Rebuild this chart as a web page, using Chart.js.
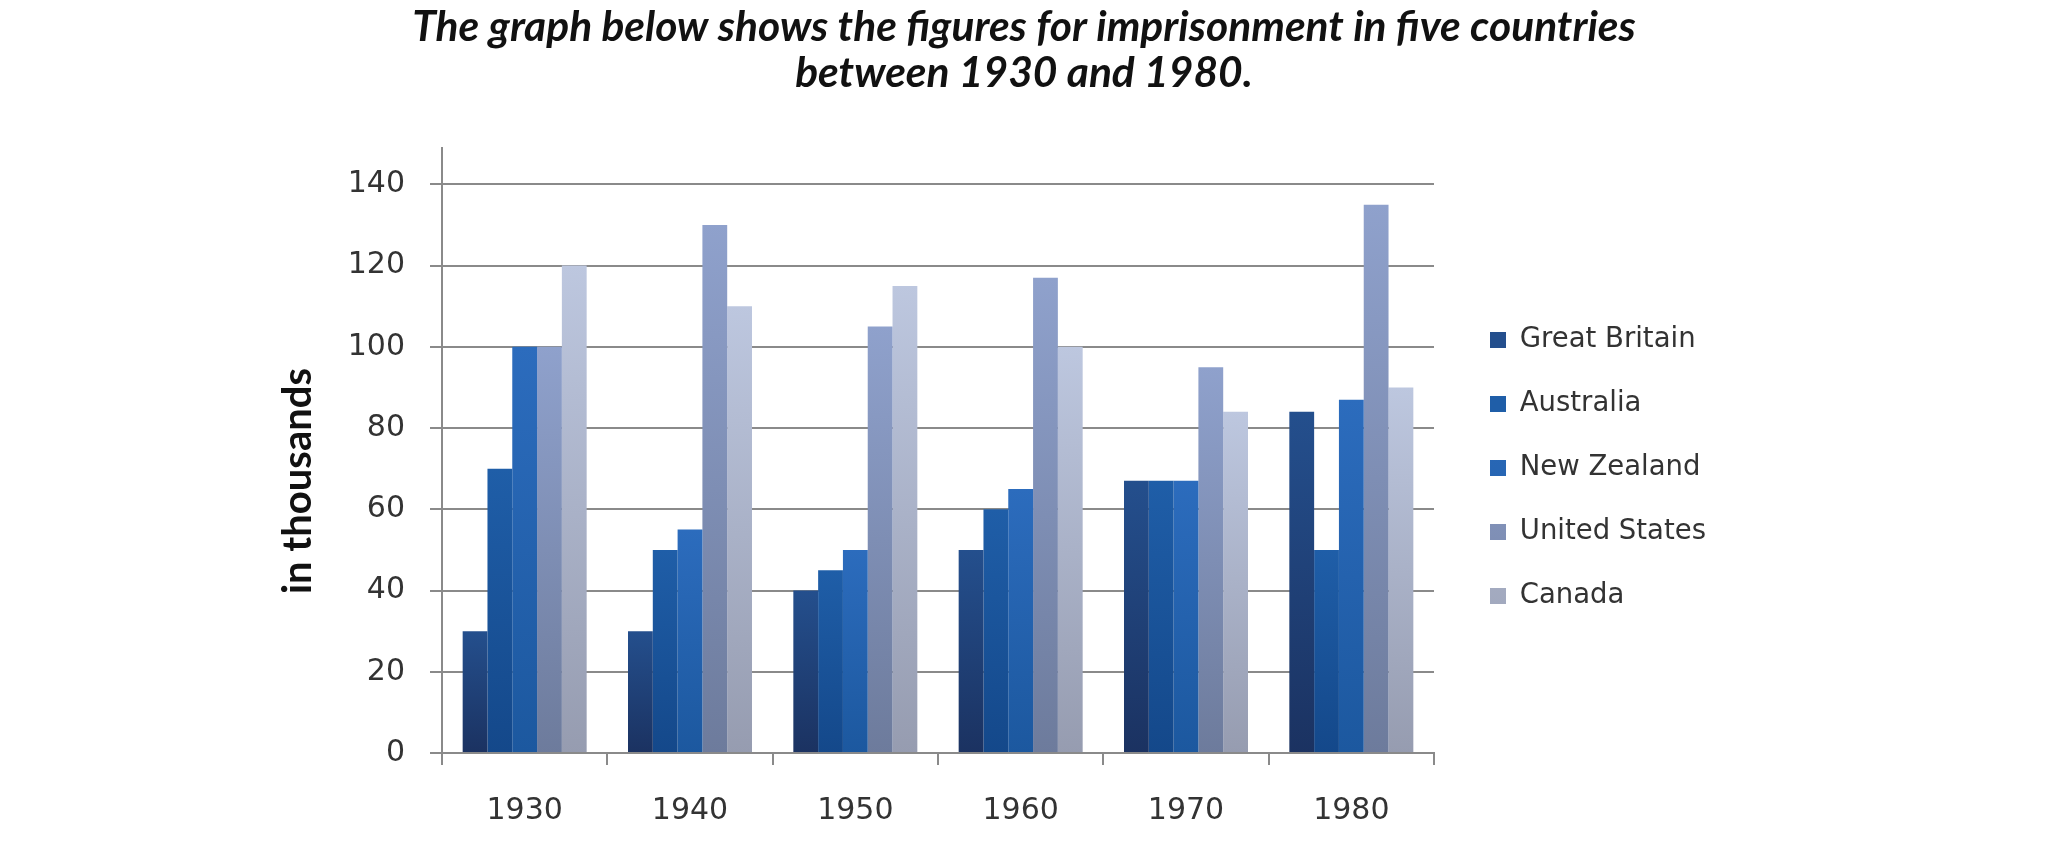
<!DOCTYPE html>
<html>
<head>
<meta charset="utf-8">
<script src="https://cdn.jsdelivr.net/npm/chart.js@4/dist/chart.umd.min.js"></script>
<style>
html,body{margin:0;padding:0;background:#ffffff;}
#wrap{width:2048px;height:866px;}
</style>
</head>
<body>
<div id="wrap"><canvas id="c" width="2048" height="866"></canvas></div>
<script>
// ---- data ----
const categories = ['1930', '1940', '1950', '1960', '1970', '1980'];
const greatBritain = [30, 30, 40, 50, 67, 84];
const australia = [70, 50, 45, 60, 67, 50];
const newZealand = [100, 55, 50, 65, 67, 87];
const unitedStates = [100, 130, 105, 117, 95, 135];
const canada = [120, 110, 115, 100, 84, 90];
const seriesNames = ['Great Britain', 'Australia', 'New Zealand', 'United States', 'Canada'];
const yTickStep = 20;
const yAxisMax = 149;
const titleLines = ['The graph below shows the figures for imprisonment in five countries', 'between 1930 and 1980.'];
const yTitle = 'in thousands';

// ---- styles ----
const TOP_COLORS = ['#244f8d', '#1f5ea8', '#2c6cbd', '#8fa1cc', '#bdc7df'];
const BOTTOM_COLORS = ['#1b3261', '#14488a', '#1c589f', '#6d7b9c', '#969cb0'];
const LEGEND_COLORS = ['#1f3d72', '#1c4f91', '#2a62ae', '#8494bd', '#b5bdd2'];
const GRID = '#8a8a8a';
const CHART_RIGHT = 1434;
const LEGEND_PAD = 36.5;
const LEGEND_BOX = 16;
const LEGEND_LEFT = 1490 - LEGEND_PAD;
const LEGEND_FONT = 27.5;
const LEGEND_TOP = 340 - LEGEND_FONT / 2 - LEGEND_PAD;
const Y_TITLE_CENTER = 481;

function barFill(i) {
  return function (ctx) {
    if (ctx.type !== 'data') return LEGEND_COLORS[i];
    const chart = ctx.chart;
    const y = chart.scales && chart.scales.y;
    if (!y || !chart.chartArea) return LEGEND_COLORS[i];
    const top = y.getPixelForValue(ctx.raw);
    const bot = y.getPixelForValue(0);
    if (!isFinite(top) || !isFinite(bot) || bot - top < 1) return LEGEND_COLORS[i];
    const g = chart.ctx.createLinearGradient(0, top, 0, bot);
    g.addColorStop(0, TOP_COLORS[i]);
    g.addColorStop(1, BOTTOM_COLORS[i]);
    return g;
  };
}

const seriesValues = [greatBritain, australia, newZealand, unitedStates, canada];
const datasets = seriesValues.map((vals, i) => ({
  label: seriesNames[i],
  data: vals,
  backgroundColor: barFill(i),
  borderWidth: 0,
  barPercentage: 1.0,
  categoryPercentage: 0.75
}));

const placeBlocks = {
  id: 'placeBlocks',
  afterLayout(chart) {
    const lg = chart.legend;
    if (lg) {
      const w = lg.width, h = lg.bottom - lg.top;
      lg.left = LEGEND_LEFT; lg.right = LEGEND_LEFT + w;
      lg.top = LEGEND_TOP; lg.bottom = LEGEND_TOP + h;
    }
    const sub = chart.boxes.find(b => b.options && b.options.text === yTitle);
    if (sub) {
      const h = sub.bottom - sub.top;
      sub.top = Y_TITLE_CENTER - h / 2;
      sub.bottom = sub.top + h;
    }
  }
};

new Chart(document.getElementById('c'), {
  type: 'bar',
  data: { labels: categories, datasets: datasets },
  plugins: [placeBlocks],
  options: {
    responsive: false,
    animation: false,
    layout: { padding: 0 },
    scales: {
      x: {
        offset: true,
        grid: { display: true, offset: true, drawOnChartArea: false, drawTicks: true, tickLength: 12, color: GRID, lineWidth: 2 },
        border: { display: true, color: GRID, width: 2 },
        ticks: { font: { family: 'DejaVu Sans', size: 30 }, color: '#333333', padding: 28, maxRotation: 0 },
        afterFit(s) { s.height = 113; }
      },
      y: {
        min: 0, max: yAxisMax,
        grid: { color: GRID, lineWidth: 2, tickLength: 12, drawTicks: true },
        border: { display: true, color: GRID, width: 2 },
        ticks: { stepSize: yTickStep, font: { family: 'DejaVu Sans', size: 30 }, color: '#333333', padding: 25 },
        afterBuildTicks(s) { s.ticks = s.ticks.filter(t => t.value % yTickStep === 0); },
        afterFit(s) { s.width = 120; }
      },
      yR: {
        position: 'right', display: true,
        grid: { display: false, drawTicks: false },
        border: { display: false },
        ticks: { display: false },
        afterFit(s) { const lg = s.chart.legend; const lw = lg ? lg.width : 0; s.width = Math.max(0, 2048 - CHART_RIGHT - lw); }
      }
    },
    plugins: {
      title: {
        display: true,
        text: titleLines,
        position: 'top',
        color: '#111111',
        font: { family: 'Lato', size: 42.5, weight: 'bold', style: 'italic', lineHeight: 1.08 },
        padding: { top: 4, bottom: 52 }
      },
      subtitle: {
        display: true,
        text: yTitle,
        position: 'left',
        color: '#111111',
        font: { family: 'Lato', size: 40, weight: 'bold', lineHeight: 1.2 },
        padding: { top: 274, bottom: 0 }
      },
      legend: {
        display: true,
        position: 'right',
        align: 'start',
        labels: {
          boxWidth: LEGEND_BOX, boxHeight: LEGEND_BOX,
          padding: LEGEND_PAD,
          color: '#333333',
          font: { family: 'DejaVu Sans', size: LEGEND_FONT }
        }
      },
      tooltip: { enabled: false }
    }
  }
});
</script>
</body>
</html>
